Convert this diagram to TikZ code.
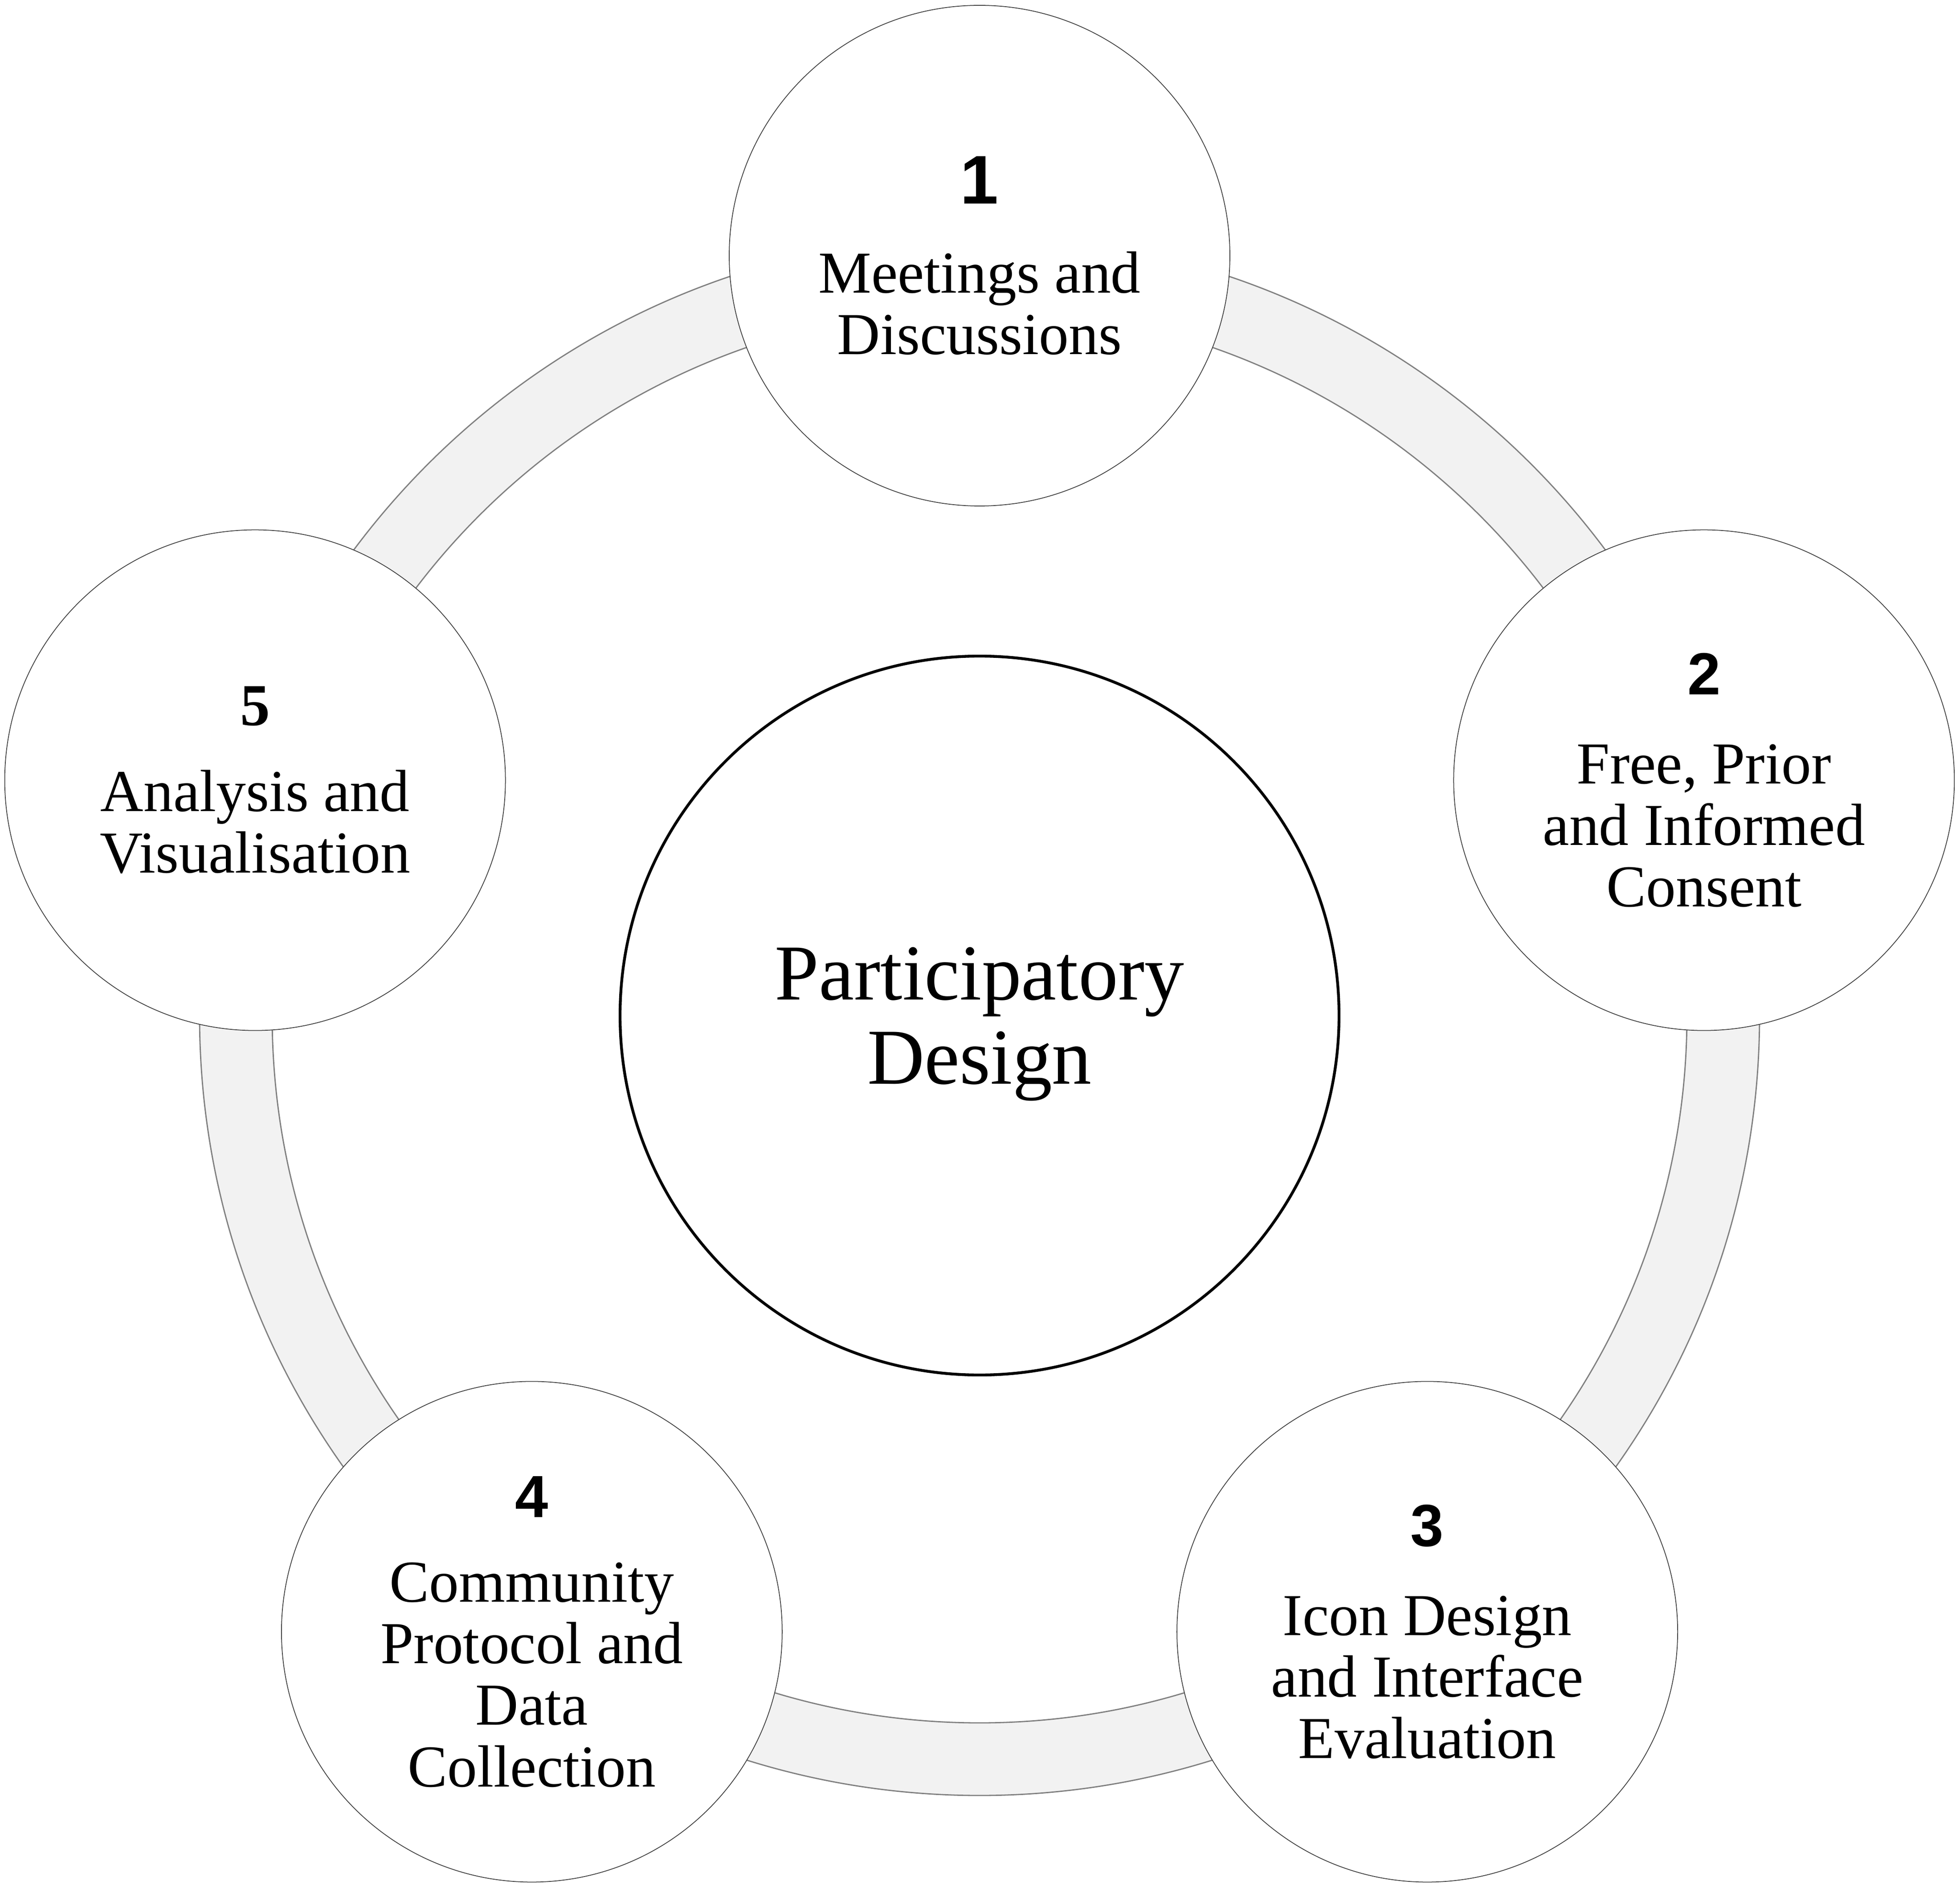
\documentclass[tikz,border=0pt]{standalone}
\usepackage{fontspec}
\setmainfont{Liberation Serif}
\newfontfamily\numfont{Liberation Sans}

\newcommand{\stepnum}[1]{{\numfont\bfseries #1}}

\begin{document}
\begin{tikzpicture}[
	step circle/.style={circle, draw=black!75, line width=0.5pt, fill=white,
		minimum size=11.24cm, inner sep=0pt, align=center,
		font=\fontsize{38}{39.3}\selectfont},
	hub circle/.style={circle, draw=black, line width=1.8pt, fill=white,
		minimum size=16.14cm, inner sep=0pt, align=center,
		font=\fontsize{50.6}{53.8}\selectfont, text depth=0pt}]

\useasboundingbox (-21.99,-19.60) rectangle (22.01,22.80);

\draw [black!50, line width=0.8pt, fill=black!5, even odd rule]
	(0,0) circle (17.51) (0,0) circle (15.88);

\node [hub circle] (hub) at (0,0) {Participatory\\Design};

\node [step circle] (s1) at (90:17.06)
	{{\fontsize{44}{44}\selectfont\stepnum{1}}\\[0.62cm] Meetings and\\Discussions};
\node [step circle] (s2) at (18:17.10)
	{\stepnum{2}\\[0.62cm] Free, Prior\\and Informed\\Consent};
\node [step circle] (s3) at (-54:17.10)
	{\stepnum{3}\\[0.62cm] Icon Design\\and Interface\\Evaluation};
\node [step circle] (s4) at (-126:17.10)
	{\stepnum{4}\\[0.52cm] Community\\Protocol and\\Data\\Collection};
\node [step circle] (s5) at (162:17.10)
	{\textbf{5}\\[0.55cm] Analysis and\\Visualisation};
\end{tikzpicture}
\end{document}
